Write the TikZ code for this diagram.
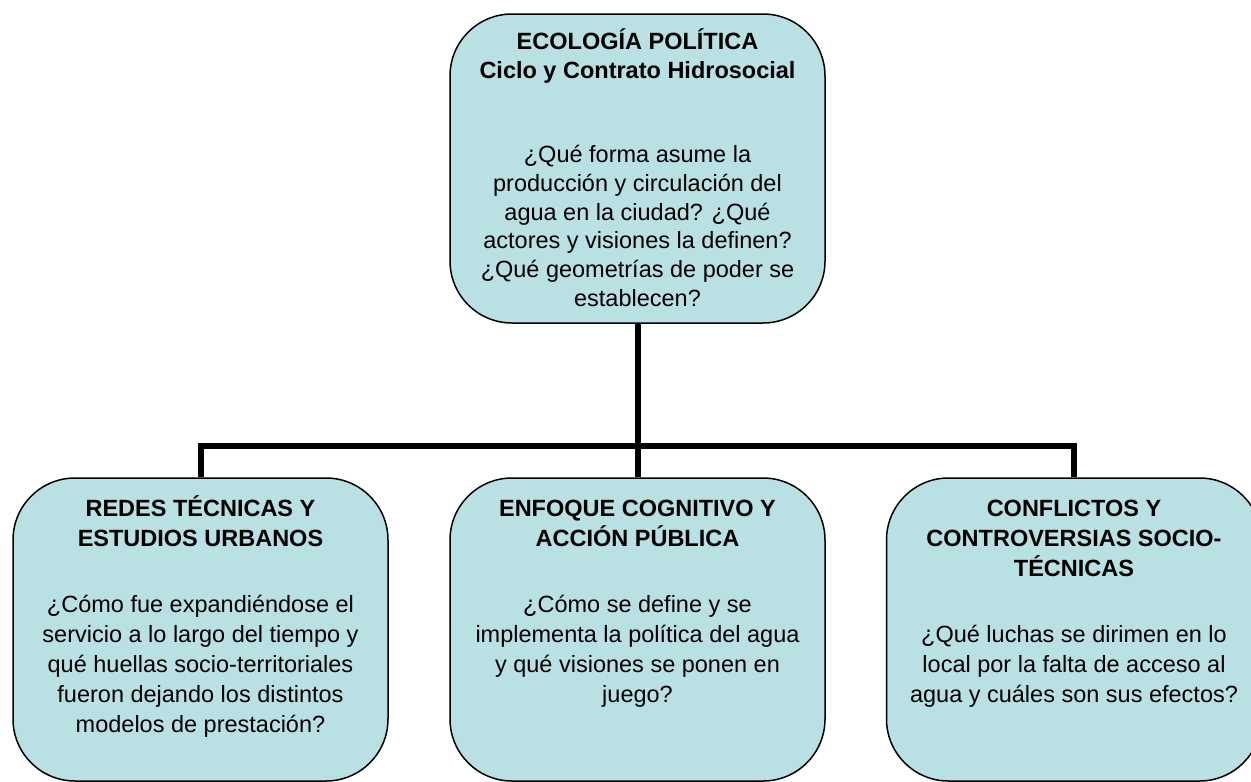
\documentclass[tikz,border=0pt]{standalone}
\usepackage{fontspec}
\setmainfont{Liberation Sans}
\usetikzlibrary{positioning}
\definecolor{aqua}{RGB}{185,224,227}

\begin{document}
\begin{tikzpicture}[x=1pt, y=-1pt,
  box/.style={draw, line width=1.5pt, fill=aqua, rounded corners=62pt, minimum width=375pt, inner sep=0pt},
  txt/.style={anchor=north, align=center, inner sep=0pt, font=\fontsize{23.5}{28.7}\selectfont},
  subtxt/.style={txt, font=\fontsize{23.5}{30}\selectfont},
  link/.style={line width=6pt}]
\useasboundingbox (0,0) rectangle (1251,782);
\node[box, minimum height=309pt](eco) at(637.5,168.5){};
\node[box, minimum height=303pt](redes) at(200.5,629.5){};
\node[box, minimum height=303pt](enfo) at(637.5,629.5){};
\node[box, minimum height=303pt](conf) at(1074,629.5){};
\node[txt, below=12pt of eco.north](ecoTxt){\rule{0pt}{24pt}\textbf{ECOLOGÍA POLÍTICA}\\
  \textbf{Ciclo y Contrato Hidrosocial}\\[56pt]
  ¿Qué forma asume la\\ producción y circulación del\\ agua en la ciudad? ¿Qué\\
  actores y visiones la definen?\\ ¿Qué geometrías de poder se\\ establecen?};
\node[subtxt, below=15pt of redes.north](redesTxt){\rule{0pt}{24pt}\textbf{REDES TÉCNICAS Y}\\
  \textbf{ESTUDIOS URBANOS}\\[36pt]
  ¿Cómo fue expandiéndose el\\ servicio a lo largo del tiempo y\\ qué huellas socio-territoriales\\
  fueron dejando los distintos\\ modelos de prestación?};
\node[subtxt, below=15pt of enfo.north](enfoTxt){\rule{0pt}{24pt}\textbf{ENFOQUE COGNITIVO Y}\\
  \textbf{ACCIÓN PÚBLICA}\\[36pt]
  ¿Cómo se define y se\\ implementa la política del agua\\ y qué visiones se ponen en\\ juego?};
\node[subtxt, below=15pt of conf.north](confTxt){\rule{0pt}{24pt}\textbf{CONFLICTOS Y}\\
  \textbf{CONTROVERSIAS SOCIO-}\\ \textbf{TÉCNICAS}\\[36pt]
  ¿Qué luchas se dirimen en lo\\ local por la falta de acceso al\\ agua y cuáles son sus efectos?};
\coordinate(bus) at(637.5,446);
\draw[link](redes.north) |- (bus) -| (conf.north);
\draw[link](eco.south)--(enfo.north);
\end{tikzpicture}
\end{document}
